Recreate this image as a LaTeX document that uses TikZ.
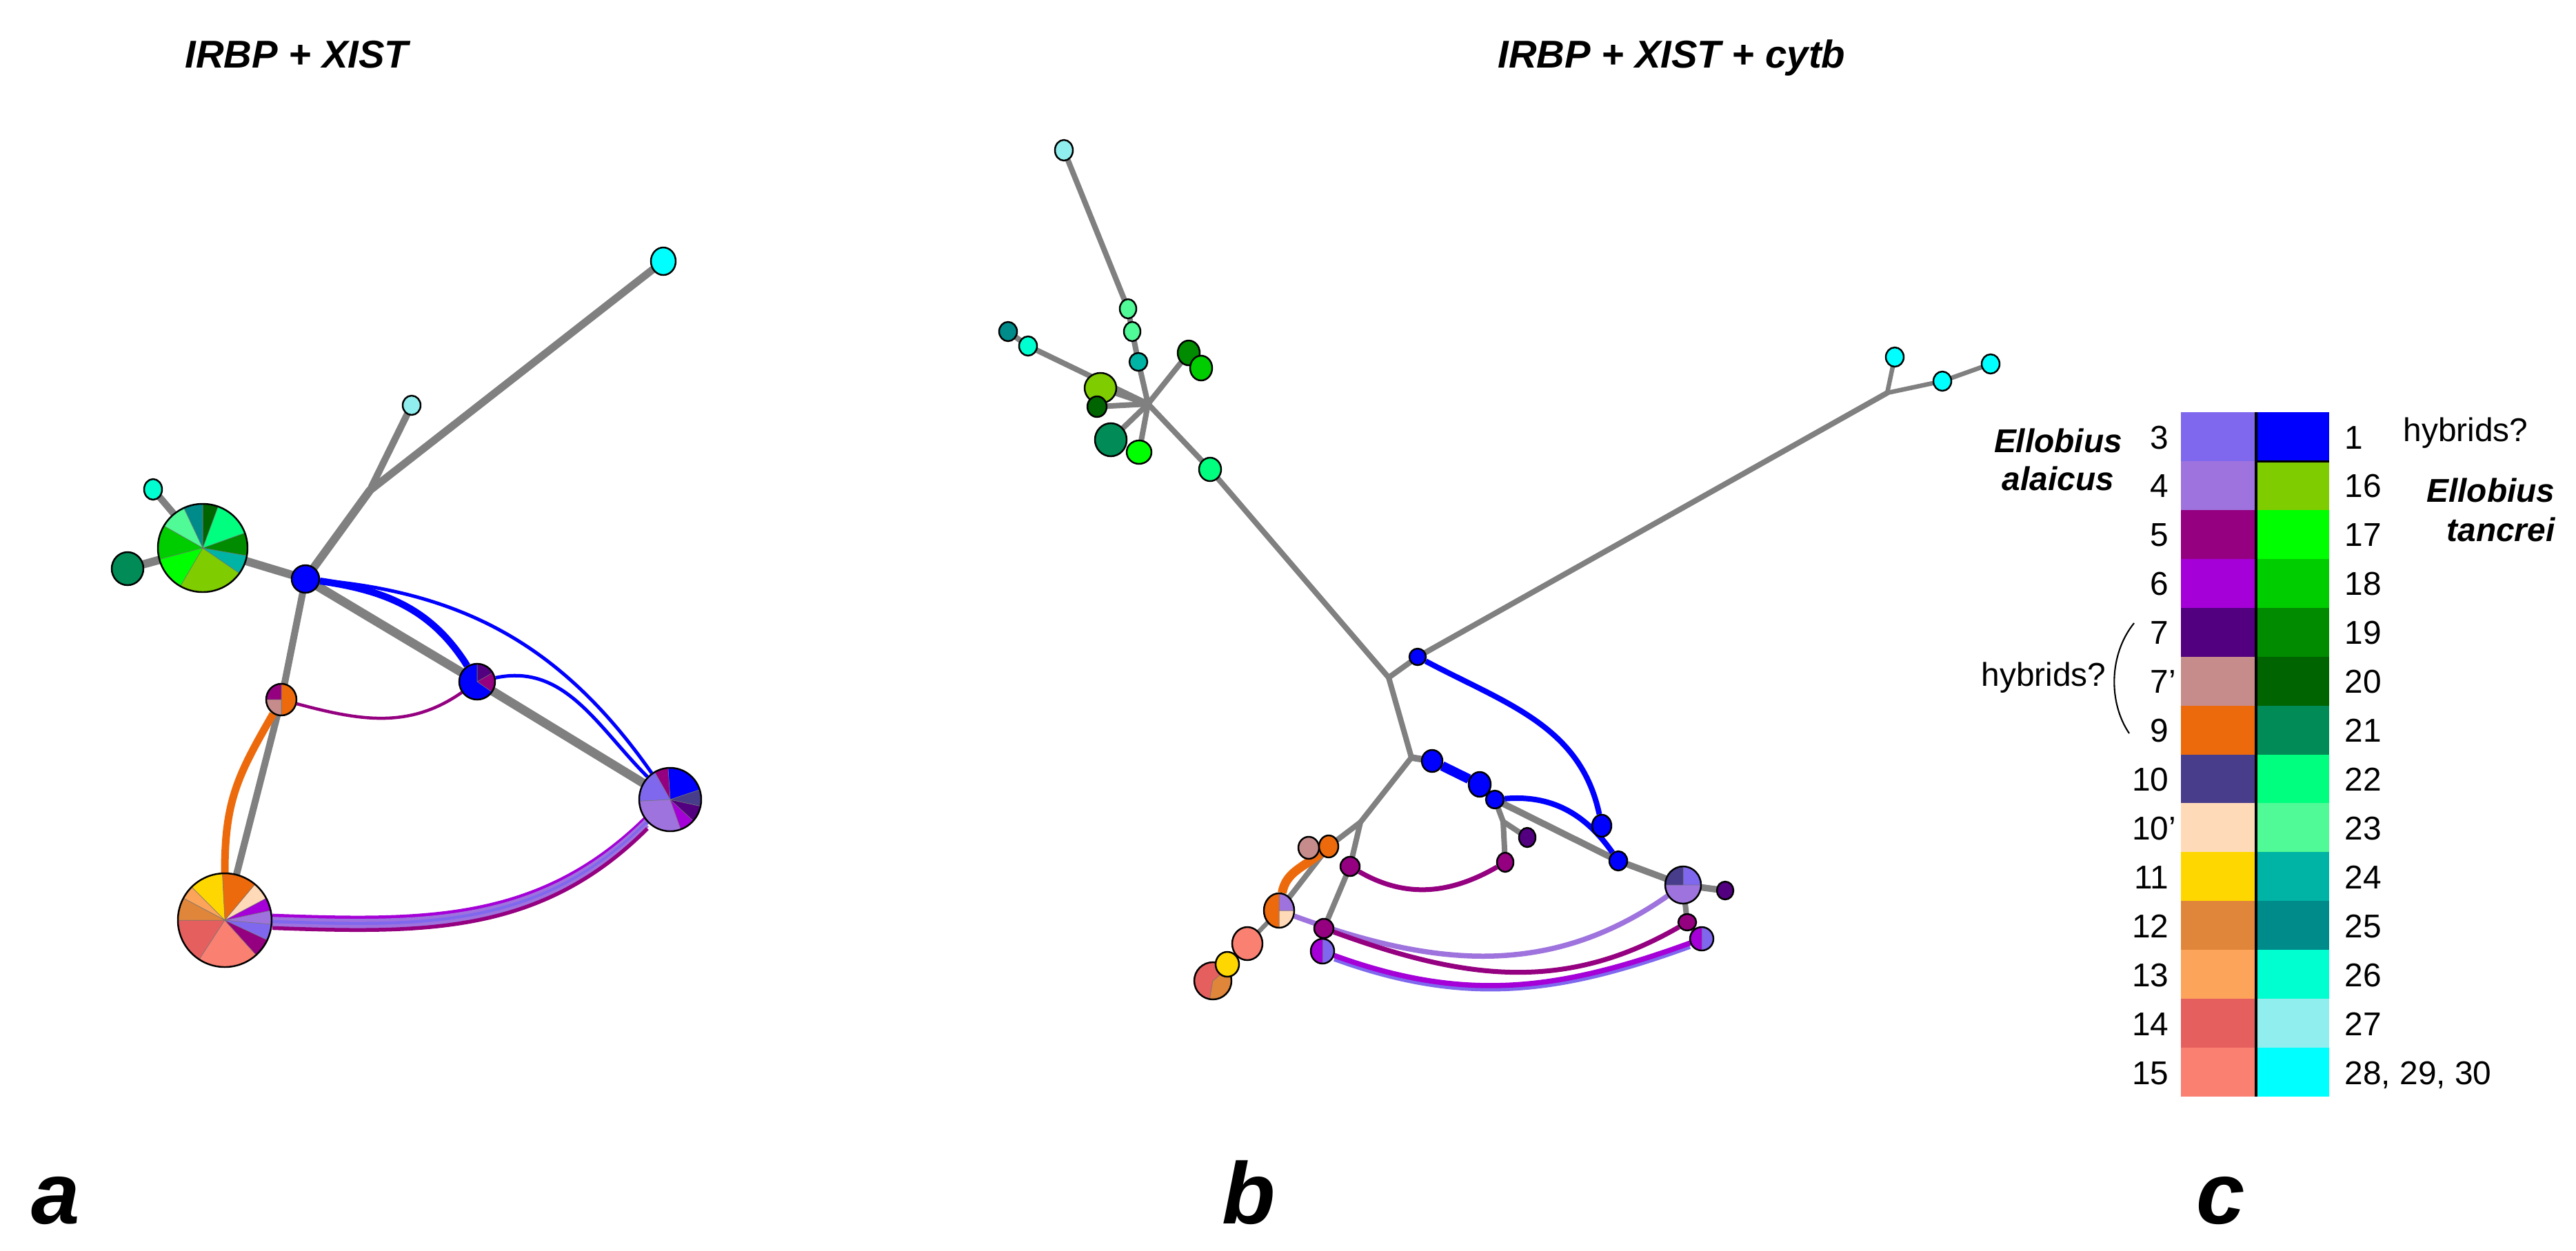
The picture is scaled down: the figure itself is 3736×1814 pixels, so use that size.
\documentclass[tikz,border=0pt]{standalone}
\usepackage{fontspec}
\setmainfont{Liberation Sans}
\usetikzlibrary{shapes.geometric}
\pgfdeclarelayer{bg}
\pgfdeclarelayer{edges}
\pgfdeclarelayer{wedges}
\pgfsetlayers{bg,edges,wedges,main}
\definecolor{c1}{RGB}{0,0,255}
\definecolor{c3}{RGB}{127,104,238}
\definecolor{c4}{RGB}{158,115,221}
\definecolor{c5}{RGB}{148,0,128}
\definecolor{c6}{RGB}{165,0,215}
\definecolor{c7}{RGB}{82,0,128}
\definecolor{c7p}{RGB}{198,140,140}
\definecolor{c9}{RGB}{237,106,12}
\definecolor{c10}{RGB}{72,61,139}
\definecolor{c10p}{RGB}{255,218,185}
\definecolor{c11}{RGB}{255,215,0}
\definecolor{c12}{RGB}{224,134,58}
\definecolor{c13}{RGB}{252,164,90}
\definecolor{c14}{RGB}{230,95,95}
\definecolor{c15}{RGB}{250,128,114}
\definecolor{c16}{RGB}{127,204,0}
\definecolor{c17}{RGB}{0,255,0}
\definecolor{c18}{RGB}{0,205,0}
\definecolor{c19}{RGB}{0,139,0}
\definecolor{c20}{RGB}{0,100,0}
\definecolor{c21}{RGB}{0,139,87}
\definecolor{c22}{RGB}{0,255,127}
\definecolor{c23}{RGB}{80,250,150}
\definecolor{c24}{RGB}{0,180,165}
\definecolor{c25}{RGB}{0,139,139}
\definecolor{c26}{RGB}{0,255,208}
\definecolor{c27}{RGB}{145,238,238}
\definecolor{c28}{RGB}{0,255,255}
\definecolor{gr}{RGB}{128,128,128}
\newcommand\piew[4]{\foreach \sa/\ea/\col in {#4}{\fill[\col, draw=black!55, line width=0.15pt] (#1.center) -- ++({#2*cos(\sa)},{-#3*sin(\sa)}) arc[start angle=-\sa, end angle=-\ea, x radius=#2, y radius=#3] -- cycle;}}
\tikzset{
 hap/.style n args={3}{ellipse, draw=black, line width=0.7pt, inner sep=0pt, minimum width={2*#1*0.01cm}, minimum height={2*#2*0.01cm}, fill=#3},
 gl/.style={draw=gr, line width=#1, line cap=round},
 gl/.default=0.08cm,
 cl/.style 2 args={draw=#1, line width=#2},
 lg/.style={font=\fontsize{13.6}{16}\selectfont, inner sep=0pt},
 spn/.style={font=\fontsize{13.6}{16}\selectfont\bfseries\itshape, inner sep=0pt},
 ttl/.style={font=\fontsize{16}{19}\selectfont\bfseries\itshape, inner sep=0pt, anchor=base west},
 pnl/.style={font=\fontsize{36}{40}\selectfont\bfseries\itshape, inner sep=0pt, anchor=base west}
}
\begin{document}
\begin{tikzpicture}[x=0.01cm, y=-0.01cm]
\useasboundingbox (0,0) rectangle (3736,1814);
\begin{pgfonlayer}{bg}
\fill[white] (0,0) rectangle (3736,1814);
\end{pgfonlayer}

% ---------------- titles and panel letters
\node[ttl] (ta) at (268,98) {IRBP + XIST};
\node[ttl] (tb) at (2172,98) {IRBP + XIST + cytb};
\node[pnl] (la) at (45,1775) {a};
\node[pnl] (lb) at (1772,1775) {b};
\node[pnl] (lc) at (3185,1775) {c};

% ---------------- panel a nodes
\node[hap={18}{20}{c28}] (aC1) at (962,379) {};
\node[hap={13}{14}{c27}] (aC2) at (597,588) {};
\coordinate (aJ1) at (536,712);
\node[hap={13}{15}{c26}] (aT) at (222,710) {};
\node[hap={23}{24}{c21}] (aD) at (185,825) {};
\node[hap={65}{64}{none}] (aG) at (294,795) {};
\node[hap={20}{20}{c1}] (aB) at (443,840) {};
\node[hap={26}{26}{none}] (aM) at (692,989) {};
\node[hap={22}{23}{none}] (aS) at (408,1015) {};
\node[hap={68}{68}{none}] (aL) at (326,1335) {};
\node[hap={45}{46}{none}] (aR) at (972,1160) {};

\begin{pgfonlayer}{wedges}
\piew{aG}{65}{64}{-120/-35/c16, -35/-10/c24, -10/20/c19, 20/70/c22, 70/90/c20, 90/115/c25, 115/150/c23, 150/195/c18, 195/240/c17}
\piew{aM}{26}{26}{-35/30/c5, 30/90/c7, 90/325/c1}
\piew{aS}{22}{23}{-90/90/c9, 90/180/c5, 180/270/c7p}
\piew{aL}{68}{68}{180/237/c14, 237/312/c15, 312/335/c5, 335/355/c3, 355/372/c4, 372/388/c6, 388/410/c10p, 410/453/c9, 453/495/c11, 495/512/c13, 512/540/c12}
\piew{aR}{45}{46}{18/94/c1, 94/120/c5, 120/183/c3, 183/290/c4, 290/318/c6, 318/348/c7, 348/378/c10}
\end{pgfonlayer}

\begin{pgfonlayer}{edges}
\draw[gl=0.11cm] (aC1) -- (aJ1);
\draw[gl=0.10cm] (aC2) -- (aJ1);
\draw[gl=0.12cm] (aJ1) -- (aB);
\draw[gl=0.10cm] (aT) -- (aG);
\draw[gl=0.12cm] (aD) -- (aG);
\draw[gl=0.12cm] (aG) -- (aB);
\draw[gl=0.10cm] (aB) -- (aS);
\draw[gl=0.10cm] (aS) -- (aL);
\draw[gl=0.13cm] (aB) -- (aM);
\draw[gl=0.13cm] (aM) -- (aR);
% coloured links
\draw[cl={c1}{0.10cm}] (aB) to[out=-8, in=122] (aM);
\draw[cl={c1}{0.05cm}] (aB) to[out=-5, in=125] (aR);
\draw[cl={c1}{0.05cm}] (aM) to[out=12, in=135] (aR);
\draw[cl={c5}{0.045cm}] (aS) to[out=-15, in=-145] (aM);
\draw[cl={c9}{0.11cm}] (aS) to[out=240, in=90, looseness=1.1] (aL);
\draw[cl={c6}{0.055cm}, transform canvas={yshift=0.09cm}] (aL) to[out=-2, in=225] (aR);
\draw[cl={c4}{0.055cm}, transform canvas={yshift=0.045cm}] (aL) to[out=-2, in=225] (aR);
\draw[cl={c3}{0.055cm}] (aL) to[out=-2, in=225] (aR);
\draw[cl={c4}{0.055cm}, transform canvas={yshift=-0.045cm}] (aL) to[out=-2, in=225] (aR);
\draw[cl={c5}{0.055cm}, transform canvas={yshift=-0.09cm}] (aL) to[out=-2, in=225] (aR);
\end{pgfonlayer}

% ---------------- panel b nodes
\node[hap={13}{15}{c27}] (b27) at (1543,218) {};
\node[hap={12}{14}{c23}] (b23a) at (1636,448) {};
\node[hap={12}{14}{c23}] (b23b) at (1642,481) {};
\node[hap={13}{13}{c24}] (b24) at (1651,525) {};
\node[hap={13}{14}{c25}] (b25) at (1462,481) {};
\node[hap={13}{14}{c26}] (b26) at (1491,502) {};
\node[hap={23}{22}{c16}] (b16) at (1596,563) {};
\node[hap={14}{15}{c20}] (b20) at (1591,590) {};
\node[hap={23}{24}{c21}] (b21) at (1611,638) {};
\node[hap={18}{17}{c17}] (b17) at (1652,656) {};
\node[hap={16}{18}{c19}] (b19) at (1724,512) {};
\node[hap={16}{18}{c18}] (b18) at (1742,534) {};
\coordinate (bH) at (1665,586);
\node[hap={16}{17}{c22}] (b22) at (1755,681) {};
\coordinate (bJ2) at (2014,983);
\node[hap={12}{12}{c1}] (b1a) at (2056,953) {};
\coordinate (bJC) at (2737,570);
\node[hap={13}{14}{c28}] (bcA) at (2748,518) {};
\node[hap={13}{14}{c28}] (bcB) at (2817,553) {};
\node[hap={13}{14}{c28}] (bcC) at (2887,528) {};
\coordinate (bJ3) at (2047,1099);
\node[hap={15}{16}{c1}] (b2) at (2077,1104) {};
\node[hap={16}{18}{c1}] (b3) at (2146,1138) {};
\node[hap={13}{13}{c1}] (b4) at (2168,1160) {};
\node[hap={13}{14}{c1}] (b6) at (2347,1249) {};
\node[hap={26}{27}{none}] (bP) at (2441,1284) {};
\node[hap={12}{13}{c7}] (b7a) at (2502,1292) {};
\node[hap={13}{12}{c5}] (b5s) at (2447,1338) {};
\node[hap={17}{17}{none}] (bP63) at (2468,1362) {};
\node[hap={14}{16}{c1}] (b5) at (2323,1198) {};
\coordinate (bJ4) at (2180,1192);
\node[hap={12}{14}{c5}] (bm2) at (2183,1251) {};
\node[hap={12}{14}{c7}] (b7b) at (2215,1215) {};
\coordinate (bJ5) at (1973,1193);
\node[hap={15}{16}{c7p}] (b7p) at (1898,1230) {};
\node[hap={14}{16}{c9}] (b9) at (1927,1228) {};
\node[hap={14}{14}{c5}] (bm3) at (1958,1257) {};
\node[hap={22}{25}{none}] (bP9) at (1855,1321) {};
\node[hap={22}{24}{c15}] (b15) at (1809,1369) {};
\node[hap={27}{27}{none}] (bP14) at (1759,1423) {};
\node[hap={17}{18}{c11}] (b11) at (1780,1399) {};
\node[hap={14}{14}{c5}] (bm4) at (1920,1347) {};
\node[hap={17}{18}{none}] (bP6) at (1918,1380) {};

\begin{pgfonlayer}{wedges}
\piew{bP}{26}{27}{0/90/c3, 90/180/c10, 180/360/c4}
\piew{bP63}{17}{17}{-90/90/c3, 90/270/c6}
\piew{bP6}{17}{18}{-90/90/c3, 90/270/c6}
\piew{bP9}{22}{25}{-90/0/c10p, 0/90/c4, 90/270/c9}
\piew{bP14}{27}{27}{40/260/c14, 260/400/c12}
\end{pgfonlayer}

\begin{pgfonlayer}{edges}
\draw[gl] (b27) -- (b23a);
\draw[gl] (b23a) -- (b23b);
\draw[gl] (b23b) -- (b24);
\draw[gl] (b24) -- (bH);
\draw[gl] (b25) -- (b26);
\draw[gl] (b26) -- (bH);
\draw[gl] (b16) -- (bH);
\draw[gl] (b20) -- (bH);
\draw[gl] (b21) -- (bH);
\draw[gl] (b17) -- (bH);
\draw[gl] (b19) -- (bH);
\draw[gl] (bH) -- (b22);
\draw[gl] (b22) -- (bJ2);
\draw[gl] (bJ2) -- (b1a);
\draw[gl] (b1a) -- (bJC);
\draw[gl=0.065cm] (bJC) -- (bcA);
\draw[gl=0.065cm] (bJC) -- (bcB);
\draw[gl=0.065cm] (bcB) -- (bcC);
\draw[gl] (bJ2) -- (bJ3);
\draw[gl=0.095cm] (bJ3) -- (b2);
\draw[gl=0.095cm] (b2) -- (b3);
\draw[gl=0.095cm] (b3) -- (b4);
\draw[gl=0.095cm] (b4) -- (b6);
\draw[gl=0.095cm] (b6) -- (bP);
\draw[gl=0.095cm] (bP) -- (b7a);
\draw[gl] (bP) -- (b5s);
\draw[gl] (b5s) -- (bP63);
\draw[gl] (b4) -- (bJ4);
\draw[gl] (bJ4) -- (bm2);
\draw[gl] (bJ4) -- (b7b);
\draw[gl] (bJ3) -- (bJ5);
\draw[gl] (bJ5) -- (b9);
\draw[gl] (bJ5) -- (bm3);
\draw[gl] (b9) -- (bP9);
\draw[gl] (bm3) -- (bm4);
\draw[gl] (bm4) -- (bP6);
\draw[gl=0.065cm] (bP9) -- (b15);
\draw[gl=0.065cm] (b15) -- (b11);
\draw[gl=0.065cm] (b11) -- (bP14);
% coloured links
\draw[cl={c1}{0.08cm}] (b1a) to[out=-28, in=102] (b5);
\draw[cl={c1}{0.14cm}] (b2) -- (b3);
\draw[cl={c1}{0.08cm}] (b4) to[out=5, in=125] (b6);
\draw[cl={c5}{0.07cm}] (bm3) to[out=-30, in=-150] (bm2);
\draw[cl={c4}{0.075cm}] (bP9) to[out=-20, in=-145] (bP);
\draw[cl={c5}{0.07cm}] (bm4) to[out=-20, in=-150] (b5s);
\draw[cl={c3}{0.07cm}, transform canvas={yshift=-0.05cm}] (bP6) to[out=-20, in=-160] (bP63);
\draw[cl={c6}{0.075cm}] (bP6) to[out=-20, in=-160] (bP63);
\draw[cl={c9}{0.13cm}] (b9) to[out=220, in=80] (bP9);
\end{pgfonlayer}

% ---------------- legend (panel c)
\foreach \i/\lab/\col in {0/3/c3,1/4/c4,2/5/c5,3/6/c6,4/7/c7,5/7\rlap{'}/c7p,6/9/c9,7/10/c10,8/10\rlap{'}/c10p,9/11/c11,10/12/c12,11/13/c13,12/14/c14,13/15/c15}{
  \fill[\col] (3163,{598+70.93*\i}) rectangle (3272,{598+70.93*(\i+1)});
  \node[lg, anchor=base east] (ll\i) at (3146,{651+70.93*\i}) {\lab};
}
\foreach \i/\lab/\col in {0/1/c1,1/16/c16,2/17/c17,3/18/c18,4/19/c19,5/20/c20,6/21/c21,7/22/c22,8/23/c23,9/24/c24,10/25/c25,11/26/c26,12/27/c27,13/{28, 29, 30}/c28}{
  \fill[\col] (3272,{598+70.93*\i}) rectangle (3378,{598+70.93*(\i+1)});
  \node[lg, anchor=base west] (lr\i) at (3400,{651+70.93*\i}) {\lab};
}
\draw[line width=0.04cm] (3272,598) -- (3272,1591);
\draw[line width=0.03cm] (3272,669) -- (3378,669);
\node[spn, anchor=base] (ea1) at (2985,656) {Ellobius};
\node[spn, anchor=base] (ea2) at (2985,711) {alaicus};
\node[spn, anchor=base east] (et1) at (3706,728) {Ellobius};
\node[spn, anchor=base east] (et2) at (3706,785) {tancrei};
\node[lg, anchor=base west] (hy1) at (3485,640) {hybrids?};
\node[lg, anchor=base west] (hy2) at (2873,995) {hybrids?};
\draw[line width=0.6pt] (3095,904) .. controls (3058,950) and (3058,1020) .. (3088,1064);
\end{tikzpicture}
\end{document}
